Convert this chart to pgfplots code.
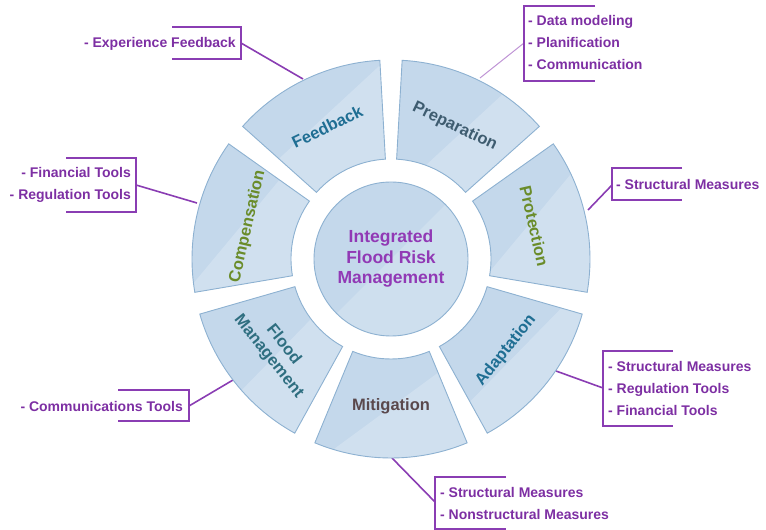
\documentclass[border=0pt]{standalone}
\usepackage{pgfplots}
\pgfplotsset{compat=1.18}
\usepackage{fontspec}
\setmainfont{Liberation Sans}

\definecolor{sectfill}{HTML}{C4D8EB}
\definecolor{sectedge}{HTML}{8DB1D1}
\definecolor{callout}{HTML}{7D2FA3}
\definecolor{bracket}{HTML}{8A3DB3}
\definecolor{centertxt}{HTML}{9139B5}
\definecolor{tealtxt}{HTML}{1F6E93}
\definecolor{slatetxt}{HTML}{3E5C70}
\definecolor{olivetxt}{HTML}{6A8C2A}
\definecolor{floodtxt}{HTML}{2E6E80}
\definecolor{mitigtxt}{HTML}{5A484C}

% one ring segment: centre angle, label, colour, rotation
\newcommand\sector[4]{%
  \draw[fill=sectfill, draw=sectedge, line width=0.9pt,
    path picture={\fill[white, opacity=0.22]
      (path picture bounding box.south west) -- (path picture bounding box.south east)
      -- (path picture bounding box.north east) -- cycle;}]
    ([shift={(#1-22.5:100pt)}]axis cs:391,271)
    arc[start angle=#1-22.5, end angle=#1+22.5, radius=100pt]
    -- ([shift={(#1+22.5:199pt)}]axis cs:391,271)
    arc[start angle=#1+22.5, end angle=#1-22.5, radius=199pt] -- cycle;
  \node[rotate=#4, text=#3, font=\fontsize{16.5}{19}\selectfont\bfseries, align=center]
    at ([shift={(#1:147pt)}]axis cs:391,271) {#2};
}

\begin{document}
\begin{tikzpicture}
\begin{axis}[
    x=1pt, y=1pt,
    xmin=0, xmax=766, ymin=0, ymax=530,
    hide axis, clip=false,
]
\addplot[draw=none] coordinates {(0,0) (766,530)};

% connectors
\draw[bracket, line width=1.6pt] (axis cs:241,487) -- (axis cs:303,451);
\draw[bracket, line width=1.6pt] (axis cs:136,345) -- (axis cs:197,327);
\draw[bracket!55, line width=1pt] (axis cs:524,487) -- (axis cs:480,452);
\draw[bracket, line width=1.6pt] (axis cs:612,345) -- (axis cs:588,320);
\draw[bracket, line width=1.6pt] (axis cs:189,124) -- (axis cs:233,150);
\draw[bracket, line width=1.6pt] (axis cs:603,142) -- (axis cs:556,159);
\draw[bracket, line width=1.6pt] (axis cs:392,72) -- (axis cs:435,28);

% ring
\sector{12.857}{Protection}{olivetxt}{-77.14}
\sector{64.286}{Preparation}{slatetxt}{-25.71}
\sector{115.714}{Feedback}{tealtxt}{25.71}
\sector{167.143}{Compensation}{olivetxt}{77.14}
\sector{218.571}{Flood\\Management}{floodtxt}{-51.43}
\sector{270}{Mitigation}{mitigtxt}{0}
\sector{321.429}{Adaptation}{tealtxt}{51.43}

% hub
\draw[fill=sectfill, draw=sectedge, line width=0.9pt,
  path picture={\fill[white, opacity=0.18]
    (path picture bounding box.south west) -- (path picture bounding box.south east)
    -- (path picture bounding box.north east) -- cycle;}]
  (axis cs:391,271) circle[radius=77pt];
\node[text=centertxt, font=\fontsize{17.5}{20.5}\selectfont\bfseries, align=center]
  at (axis cs:391,271) {Integrated\\Flood Risk\\Management};

% brackets
\draw[bracket, line width=1.6pt] (axis cs:172,503) -- (axis cs:241,503) -- (axis cs:241,471) -- (axis cs:172,471);
\draw[bracket, line width=1.6pt] (axis cs:66,372) -- (axis cs:136,372) -- (axis cs:136,318) -- (axis cs:66,318);
\draw[bracket, line width=1.6pt] (axis cs:595,524) -- (axis cs:524,524) -- (axis cs:524,449) -- (axis cs:595,449);
\draw[bracket, line width=1.6pt] (axis cs:682,362) -- (axis cs:612,362) -- (axis cs:612,330) -- (axis cs:682,330);
\draw[bracket, line width=1.6pt] (axis cs:118,140) -- (axis cs:189,140) -- (axis cs:189,109) -- (axis cs:118,109);
\draw[bracket, line width=1.6pt] (axis cs:673,179) -- (axis cs:603,179) -- (axis cs:603,104) -- (axis cs:673,104);
\draw[bracket, line width=1.6pt] (axis cs:506,53) -- (axis cs:435,53) -- (axis cs:435,1) -- (axis cs:506,1);

% callout texts
\tikzset{co/.style={text=callout, font=\fontsize{14}{22}\selectfont\bfseries, inner sep=0pt}}
\node[co, anchor=east] at (axis cs:236,486) {- Experience Feedback};
\node[co, anchor=east, align=right] at (axis cs:131,345) {- Financial Tools\\- Regulation Tools};
\node[co, anchor=west, align=left] at (axis cs:528,487) {- Data modeling\\- Planification\\- Communication};
\node[co, anchor=west] at (axis cs:616,345) {- Structural Measures};
\node[co, anchor=east] at (axis cs:183,124) {- Communications Tools};
\node[co, anchor=west, align=left] at (axis cs:608,142) {- Structural Measures\\- Regulation Tools\\- Financial Tools};
\node[co, anchor=west, align=left] at (axis cs:440,27) {- Structural Measures\\- Nonstructural Measures};
\end{axis}
\end{tikzpicture}
\end{document}
